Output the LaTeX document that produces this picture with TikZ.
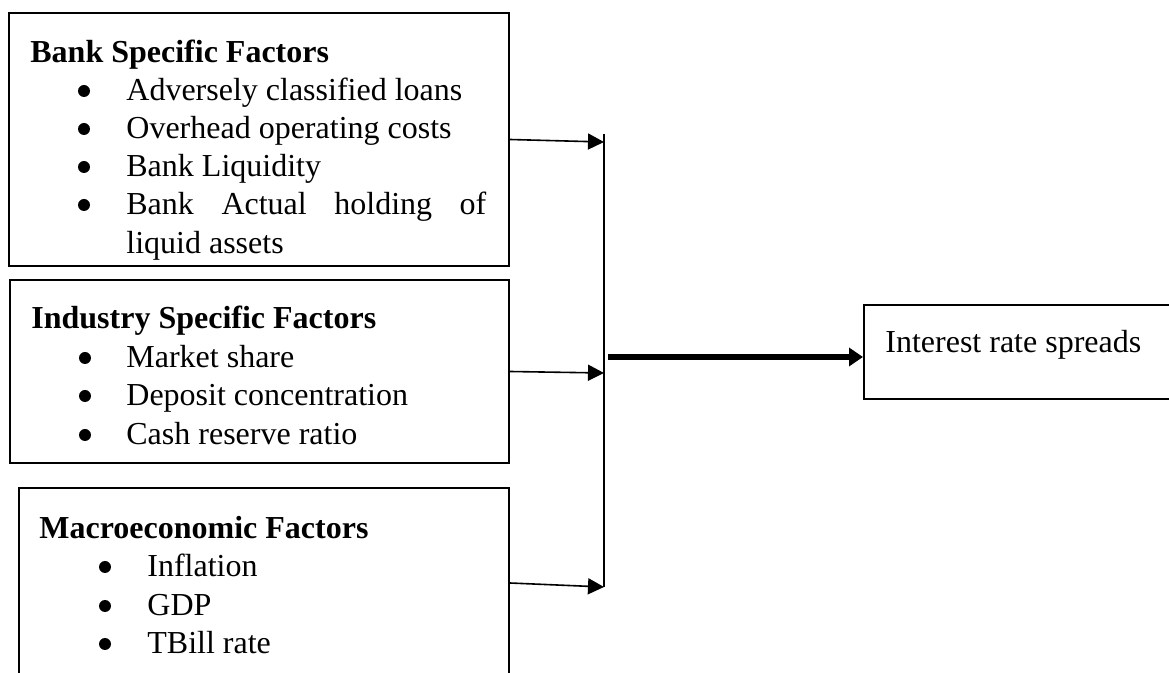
\documentclass[tikz,border=0pt]{standalone}
\usepackage{fontspec}
\setmainfont{Liberation Serif}
\usetikzlibrary{arrows.meta}

\tikzset{
    factorbox/.style={draw, line width=1pt, inner sep=0pt, anchor=north west},
    itemtext/.style={anchor=base west, inner sep=0pt},
    itemdot/.style={circle, fill, inner sep=0pt, minimum size=6pt},
    feed/.style={line width=0.8pt, -{Triangle[length=8pt,width=8pt]}},
    mainfeed/.style={line width=3pt, -{Triangle[length=7pt,width=9pt]}}
}

\begin{document}
\begin{tikzpicture}[x=0.5pt, y=-0.5pt, font=\fontsize{16}{19}\selectfont]
    % 画布大小
    \clip (0,0) rectangle (1169,673);

    % 三个因素框
    \node[factorbox, minimum width=250pt, minimum height=126.5pt] (bank) at (8,12) {};
    \node[factorbox, minimum width=249.5pt, minimum height=91.5pt] (industry) at (9,279) {};
    \node[factorbox, minimum width=245pt, minimum height=95pt] (macro) at (18,487) {};

    % 银行因素
    \node[itemtext] (banktitle) at (30,63) {\bfseries Bank Specific Factors};
    \node[itemdot] (bankdot1) at (84,91) {};
    \node[itemtext] (bankitem1) at (126,101) {Adversely classified loans};
    \node[itemdot] (bankdot2) at (84,129) {};
    \node[itemtext] (bankitem2) at (126,139) {Overhead operating costs};
    \node[itemdot] (bankdot3) at (84,167) {};
    \node[itemtext] (bankitem3) at (126,177) {Bank Liquidity};
    \node[itemdot] (bankdot4) at (84,205) {};
    \node[itemtext] (bankitem4) at (126,215) {\makebox[180pt][s]{Bank Actual holding of}};
    \node[itemtext] (bankitem5) at (126,254) {liquid assets};

    % 行业因素
    \node[itemtext] (industrytitle) at (31,329) {\bfseries Industry Specific Factors};
    \node[itemdot] (industrydot1) at (85,358) {};
    \node[itemtext] (industryitem1) at (126,368) {Market share};
    \node[itemdot] (industrydot2) at (85,396) {};
    \node[itemtext] (industryitem2) at (126,406) {Deposit concentration};
    \node[itemdot] (industrydot3) at (85,435) {};
    \node[itemtext] (industryitem3) at (126,445) {Cash reserve ratio};

    % 宏观因素
    \node[itemtext] (macrotitle) at (39,539) {\bfseries Macroeconomic Factors};
    \node[itemdot] (macrodot1) at (105,567) {};
    \node[itemtext] (macroitem1) at (147,577) {Inflation};
    \node[itemdot] (macrodot2) at (105,606) {};
    \node[itemtext] (macroitem2) at (147,616) {GDP};
    \node[itemdot] (macrodot3) at (105,644) {};
    \node[itemtext] (macroitem3) at (147,654) {TBill rate};

    % 结果框
    \node[factorbox, minimum width=156pt, minimum height=47pt] (spread) at (863,304) {};
    \node[itemtext] (spreadtext) at (885,353) {Interest rate spreads};

    % 汇总竖线
    \coordinate (bartop) at (604,134);
    \coordinate (barbot) at (604,587);
    \coordinate (bar1) at (604,142);
    \coordinate (bar2) at (604,373);
    \coordinate (out) at (608,357);
    \draw[line width=0.9pt] (bartop) -- (barbot);

    % 箭头
    \draw[feed] (bank.east) -- (bar1);
    \draw[feed] (industry.east) -- (bar2);
    \draw[feed] (macro.east) -- (barbot);
    \draw[mainfeed] (out) -- (out -| spread.west);
\end{tikzpicture}
\end{document}
